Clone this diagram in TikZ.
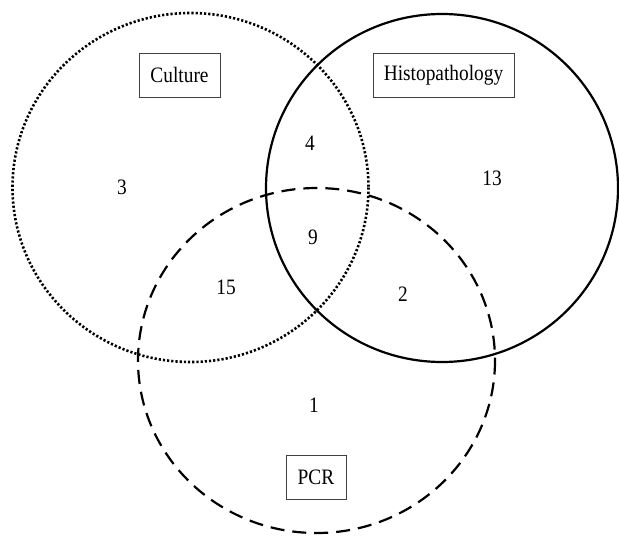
\documentclass[tikz,border=0pt]{standalone}
\usepackage{fontspec}
\setmainfont{Liberation Serif}[FakeStretch=0.88]
\usepackage{tikz}

\tikzset{
  setlabel/.style={draw, draw=black!75, line width=0.4pt, minimum height=22pt, inner sep=0pt, font=\fontsize{11}{13}\selectfont},
  count/.style={font=\fontsize{11}{13}\selectfont},
  setline/.style={line width=1.1pt}
}

\begin{document}
\begin{tikzpicture}[x=0.5pt, y=-0.5pt]
      \useasboundingbox (0,0) rectangle (619,535);

      % the three sets
      \draw[setline, line width=1.3pt, line cap=butt, dash pattern=on 1.1pt off 1pt] (190.5,187.5) ellipse [x radius=178, y radius=174.5];
      \draw[setline] (442,188) ellipse [x radius=176, y radius=174];
      \draw[setline, dash pattern=on 7pt off 4pt] (316.5,360.5) ellipse [x radius=178.5, y radius=172.5];

      % set names
      \node[setlabel, minimum width=40.5pt] (culture) at (179.5,75) {Culture};
      \node[setlabel, minimum width=70.5pt] (histo) at (443.5,75) {Histopathology};
      \node[setlabel, minimum width=30pt] (pcr) at (316,477) {PCR};

      % counts
      \node[count] (onlyC) at (122,187) {3};
      \node[count] (onlyH) at (492,178) {13};
      \node[count] (onlyP) at (314,405) {1};
      \node[count] (CH) at (310,143) {4};
      \node[count] (CP) at (226,287) {15};
      \node[count] (HP) at (403,294) {2};
      \node[count] (CHP) at (313,237) {9};

\end{tikzpicture}
\end{document}
